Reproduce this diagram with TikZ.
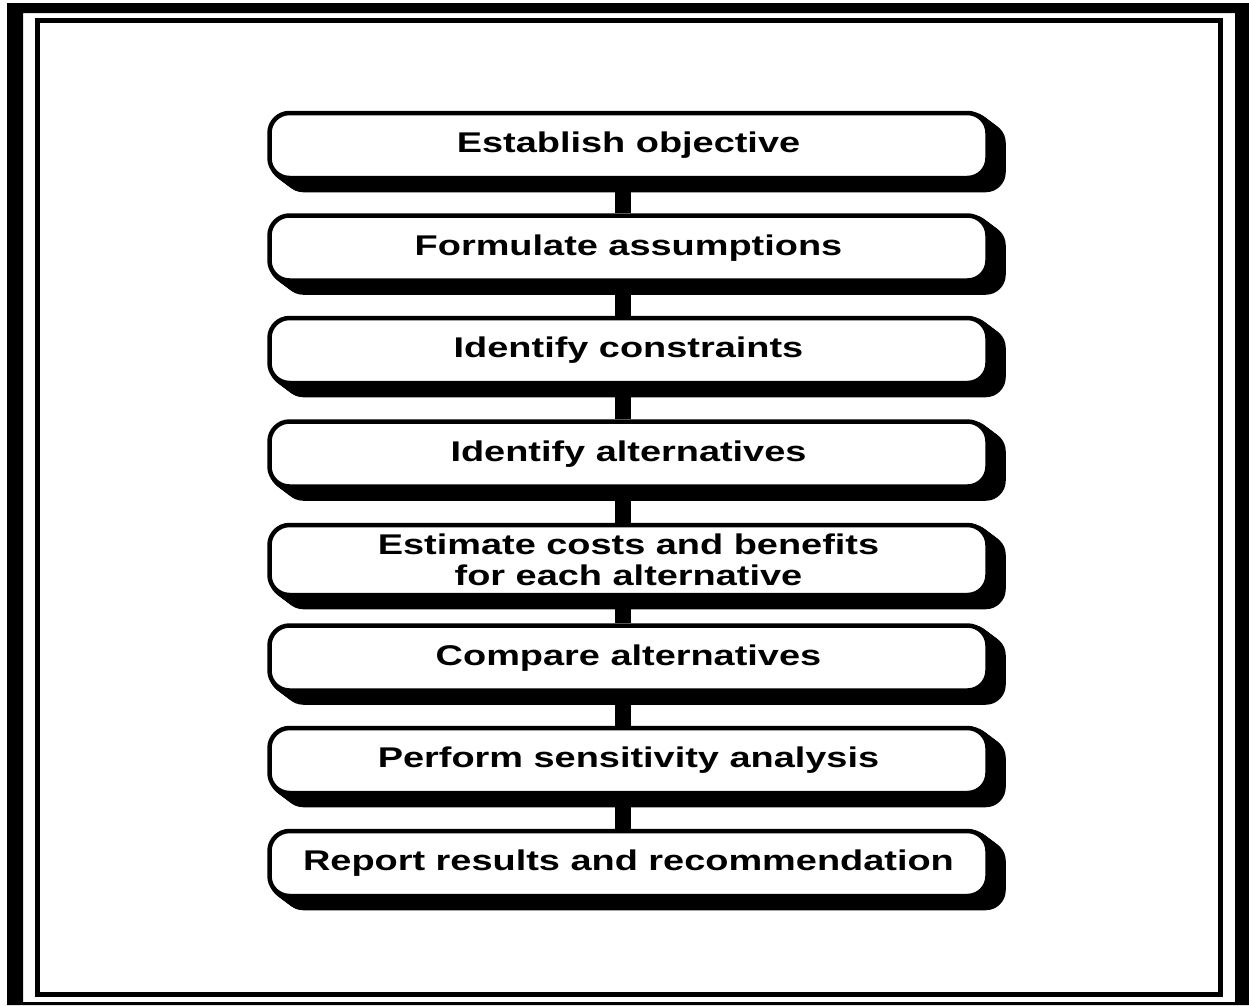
\documentclass[tikz,border=0pt]{standalone}
\usepackage{fontspec}
\setmainfont{Liberation Sans}
\newfontfamily\widesans[FakeStretch=1.33]{Liberation Sans}
\usetikzlibrary{backgrounds}
\begin{document}
\begin{tikzpicture}[x=1pt,y=-1pt,
  stepbox/.style={draw=black,fill=white,line width=4.5pt,rounded corners=20pt,
    minimum width=718pt,minimum height=65pt,inner sep=0pt,align=center,
    font=\widesans\bfseries\fontsize{28.5}{31}\selectfont},
  link/.style={line width=16pt,draw=black}]
\useasboundingbox (0,0) rectangle (1249,1005);
% outer heavy frame
\fill[black,even odd rule] (7,3) rectangle (1249,1005) (23,13) rectangle (1235,1002);
% inner thin frame
\draw[line width=4.5pt] (37.5,20.5) rectangle (1220.5,994.5);
% process steps
\node[stepbox] (s1) at (628.5,145.5) {Establish objective};
\node[stepbox] (s2) at (628.5,248) {Formulate assumptions};
\node[stepbox] (s3) at (628.5,350.5) {Identify constraints};
\node[stepbox] (s4) at (628.5,454) {Identify alternatives};
\node[stepbox,minimum height=70pt] (s5) at (628.5,560) {Estimate costs and benefits\\for each alternative};
\node[stepbox] (s6) at (628.5,658) {Compare alternatives};
\node[stepbox] (s7) at (628.5,760.5) {Perform sensitivity analysis};
\node[stepbox] (s8) at (628.5,863.5) {Report results and recommendation};
% extruded drop shadows behind each step
\begin{scope}[on background layer]
\foreach \n in {s1,s2,s3,s4,s5,s6,s7,s8}{
  \foreach \k in {1,...,8}{
    \fill[black,rounded corners=20pt]
      ([shift={(2*\k,1.5*\k)}]\n.south west) rectangle ([shift={(2*\k,1.5*\k)}]\n.north east);
  }
}
\end{scope}
% connecting bars
\foreach \a/\b in {s1/s2,s2/s3,s3/s4,s4/s5,s5/s6,s6/s7,s7/s8}{
  \draw[link] ([xshift=-5.5pt]\a.south) -- ([xshift=-5.5pt]\b.north);
}
\end{tikzpicture}
\end{document}
